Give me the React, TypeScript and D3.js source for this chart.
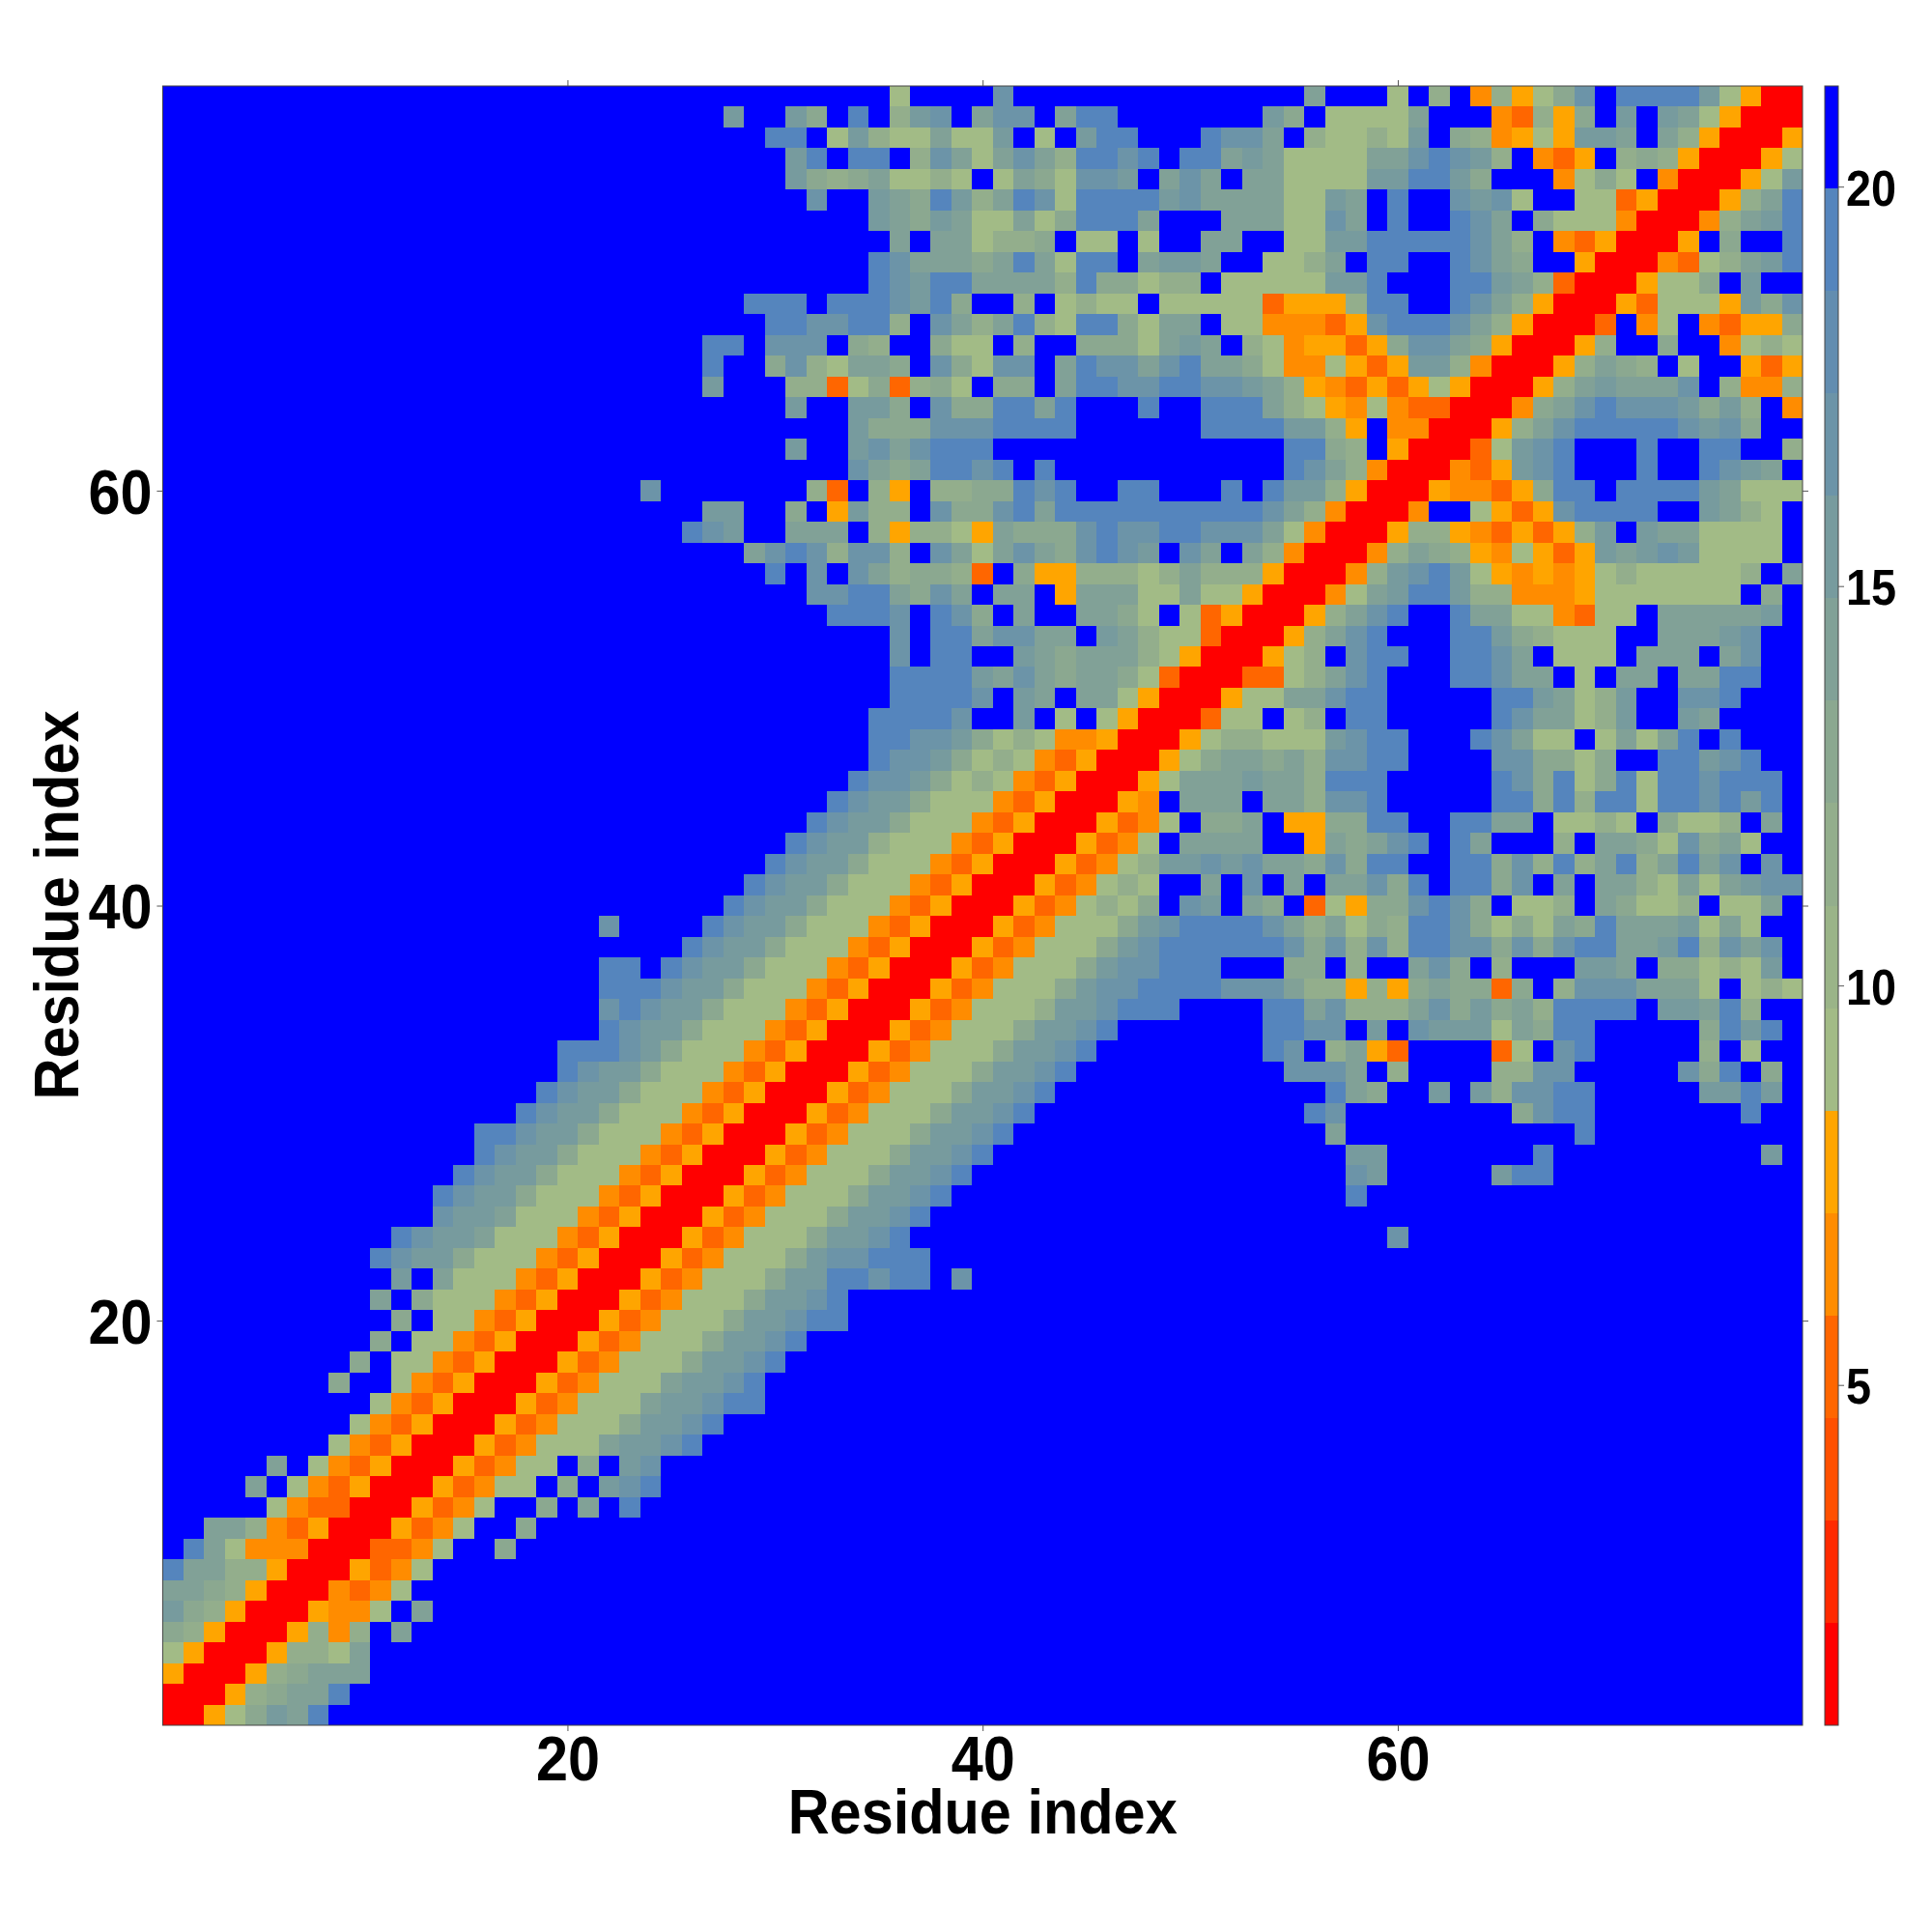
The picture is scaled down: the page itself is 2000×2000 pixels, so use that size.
import { useEffect, useRef } from "react";
import * as d3 from "d3";

const RESIDUES = 79;

// colour steps of the bar, bottom to top
const levelColors = [
  "#ff0000", "#ff2a00", "#ff5000", "#ff6600", "#ff8c00", "#ffa500",
  "#a2bb86", "#9ab488", "#93ae8c", "#8ba890", "#81a197", "#779b9e",
  "#6c94a8", "#628db0", "#5585bd", "#0000ff",
];
const levelByCode: Record<string, number> = {
  "0": 0, "3": 3, "4": 4, "5": 5, "6": 6, "7": 6, "8": 8, "9": 9,
  a: 10, b: 11, c: 12, d: 14, f: 15,
};

const axisTicks = [20, 40, 60];
const barTicks = [5, 10, 15, 20];
const barDomain: [number, number] = [0.74, 21.26];
const axisTitle = "Residue index";

// rows 79 to 53, columns up to 52, right aligned on column 52
const upperLeft = [
  "7ffffcfffffffffff",
  "bffb9fdf8bcfaccfaddffffff",
  "ddf7b866a77bf6fbddfffdc",
  "bdfddf8ca7aca8ddcdfdda",
  "b989a6687f6a97ccbfacaf",
  "cffba9db8adc7ddddbcaa",
  "ba9ba77a79dddafffa",
  "afaa7889f77f7ffaa",
  "dcaaa9ada7ddfabbaf",
  "dcbddaaaa8d99788f7",
  "dddfdddcbd9ff8f7877f7777",
  "ddccdd8fca8ad87dd97aaf7",
  "ddfcccf98ff977f8ff9997abaf",
  "dff9c87aa9fc97ccfadccacdaa",
  "bfff883793897f99faddccddcc",
  "bffbb9fc99ddadfffdffdd",
  "b999cccddddffffffdd",
  "bffbcacdddffffffffffff",
  "ca9addcdfdfffffffff",
  "cfffffff83f85f8899dcdffddfffd",
  "bbff9f5b88fc99cdaddddddddd",
  "dcbffaaaf858875a999cdccddcc",
  "acdc8cc8fca7aca9cdcbfcaf",
  "dfcfca89983f95588878a88",
  "ccdda9cafaaf5aaa77a77",
  "dddcfdc9faffaa97f735",
  "cfddaccaafba87730",
];

// rows 79 to 53, from column 53 up to the diagonal
const upperRight = [
  "fffafff7f8f48579cfddddb7500",
  "fb9f7777afff43859fbfba7500",
  "caf87787bf984575bbafa8500",
  "ba7777aacdcb8f435f898500",
  "aa7777bbddb9fff4797f400",
  "aa77bafdffcbc7ff773500",
  "aa77cafdffdcaf9777400",
  "ff77bbdddddca8f43500",
  "f778afddffdca9ff500",
  "7777bbdfffddba8300",
  "735558ddffdca8500",
  "744435cdddca8500",
  "87455359cca9500",
  "97447535bb8400",
  "ba85435357500",
  "da8754743300",
  "ddbb85f4400",
  "ffdd98f500",
  "ffdca8400",
  "fdbb8500",
  "dca8400",
  "ca7400",
  "a8400",
  "8500",
  "500",
  "00",
  "0",
];

// rows 52 to 1, right aligned on the diagonal
const lowerRows = [
  "cfddffba9aaa87500",
  "ddddbaca9aa97300",
  "ddddcfbafaa7500",
  "ddddcffbf7f7500",
  "ddccb978744500",
  "dccb978743500",
  "dccb978743500",
  "dcbb977743500",
  "dcbb977743500",
  "dcbb877743500",
  "dcbb977743500",
  "dcbb977743500",
  "dcbb977743500",
  "cffffdcbb977743500",
  "dcbb977743500",
  "ddfdcbb977743500",
  "dddcbb977743500",
  "cdcbb977743500",
  "dcbb977743500",
  "dddcb977743500",
  "dcbb977743500",
  "dcbb977743500",
  "dcbb977743500",
  "ddcbb977743500",
  "dcbb977743500",
  "dcbb977743500",
  "dcbb977743500",
  "cbba77743500",
  "dcbba77743500",
  "dcbb977743500",
  "bfa77743500",
  "af977743500",
  "9f7743500",
  "9f7743500",
  "9f7743500",
  "9ff743500",
  "743500",
  "743500",
  "743500",
  "af743500",
  "af743500",
  "743300",
  "aa843500",
  "da744400",
  "daa88500",
  "aa98500",
  "b98500",
  "98500",
  "7500",
  "500",
  "00",
  "0",
];

const App = () => {
  const svgRef = useRef<SVGSVGElement>(null);

  useEffect(() => {
    const svg = d3.select(svgRef.current);
    svg.selectAll("*").remove();

    const left = 168.4, right = 1866, top = 89, bottom = 1786;
    const x = d3.scaleLinear().domain([0.5, RESIDUES + 0.5]).range([left, right]);
    const y = d3.scaleLinear().domain([0.5, RESIDUES + 0.5]).range([bottom, top]);

    const rows: string[] = [];
    upperLeft.forEach((s, i) => rows.push(s.padStart(52, "f") + upperRight[i]));
    lowerRows.forEach((s, i) => rows.push(s.padStart(52 - i, "f")));

    // only the half with column <= row is stored, the map is symmetric
    const cells: { col: number; row: number; level: number }[] = [];
    rows.forEach((s, i) => {
      const row = RESIDUES - i;
      s.split("").forEach((c, j) => {
        const col = j + 1;
        cells.push({ col, row, level: levelByCode[c] });
        if (col !== row) cells.push({ col: row, row: col, level: levelByCode[c] });
      });
    });

    svg.append("g").attr("shape-rendering", "crispEdges")
      .selectAll("rect").data(cells).join("rect")
      .attr("x", (d) => x(d.col - 0.5))
      .attr("y", (d) => y(d.row + 0.5))
      .attr("width", (d) => x(d.col + 0.5) - x(d.col - 0.5))
      .attr("height", (d) => y(d.row - 0.5) - y(d.row + 0.5))
      .attr("fill", (d) => levelColors[d.level]);

    svg.append("rect").attr("x", left).attr("y", top).attr("width", right - left).attr("height", bottom - top)
      .attr("fill", "none").attr("stroke", "#444").attr("stroke-width", 1);

    // the reference type is taller and narrower than Liberation Sans, so squeeze it
    const style = (g: any, size: number, digitWidth: number, dy?: string) => {
      g.select(".domain").remove();
      g.selectAll(".tick line").attr("stroke", "#555").attr("stroke-width", 1);
      const labels = g.selectAll(".tick text")
        .attr("fill", "#000").attr("font-family", "'Liberation Sans', sans-serif")
        .attr("font-weight", "bold").attr("font-size", size)
        .attr("lengthAdjust", "spacingAndGlyphs")
        .attr("textLength", function (this: SVGTextElement) {
          return (this.textContent || "").length * digitWidth || null;
        });
      if (dy) labels.attr("dy", dy);
    };

    svg.append("g").attr("transform", `translate(0,${bottom})`)
      .call(d3.axisBottom(x).tickValues(axisTicks).tickFormat(d3.format("d") as any).tickSize(6).tickPadding(5))
      .call(style, 65, 33);
    svg.append("g").attr("transform", `translate(${left},0)`)
      .call(d3.axisLeft(y).tickValues(axisTicks).tickFormat(d3.format("d") as any).tickSize(6).tickPadding(5))
      .call(style, 65, 33, "0.36em");
    svg.append("g").attr("transform", `translate(0,${top})`)
      .call(d3.axisTop(x).tickValues(axisTicks).tickFormat(() => "").tickSize(6))
      .call(style, 65, 33);
    svg.append("g").attr("transform", `translate(${right},0)`)
      .call(d3.axisRight(y).tickValues(axisTicks).tickFormat(() => "").tickSize(6))
      .call(style, 65, 33);

    svg.append("text").attr("x", (left + right) / 2).attr("y", 1898).attr("text-anchor", "middle")
      .attr("font-family", "'Liberation Sans', sans-serif").attr("font-weight", "bold").attr("font-size", 64)
      .attr("textLength", 403).attr("lengthAdjust", "spacingAndGlyphs")
      .text(axisTitle);
    svg.append("text").attr("transform", "translate(81,937) rotate(-90)").attr("text-anchor", "middle")
      .attr("font-family", "'Liberation Sans', sans-serif").attr("font-weight", "bold").attr("font-size", 64)
      .attr("textLength", 403).attr("lengthAdjust", "spacingAndGlyphs")
      .text(axisTitle);

    // colour bar
    const barLeft = 1889, barRight = 1903;
    const barY = d3.scaleLinear().domain(barDomain).range([bottom, top]);
    const step = (barDomain[1] - barDomain[0]) / levelColors.length;
    svg.append("g").attr("shape-rendering", "crispEdges")
      .selectAll("rect").data(levelColors).join("rect")
      .attr("x", barLeft).attr("width", barRight - barLeft)
      .attr("y", (_, i) => barY(barDomain[0] + (i + 1) * step))
      .attr("height", (_, i) => barY(barDomain[0] + i * step) - barY(barDomain[0] + (i + 1) * step))
      .attr("fill", (d) => d);
    svg.append("rect").attr("x", barLeft).attr("y", top).attr("width", barRight - barLeft).attr("height", bottom - top)
      .attr("fill", "none").attr("stroke", "#444").attr("stroke-width", 1);
    svg.append("g").attr("transform", `translate(${barRight},0)`)
      .call(d3.axisRight(barY).tickValues(barTicks).tickFormat(d3.format("d") as any).tickSize(6).tickPadding(2))
      .call(style, 52, 26, "0.37em");
  }, []);

  return <svg ref={svgRef} width={2000} height={2000} style={{ position: "absolute", left: 0, top: 0, background: "#fff" }}></svg>;
};

export default App;
